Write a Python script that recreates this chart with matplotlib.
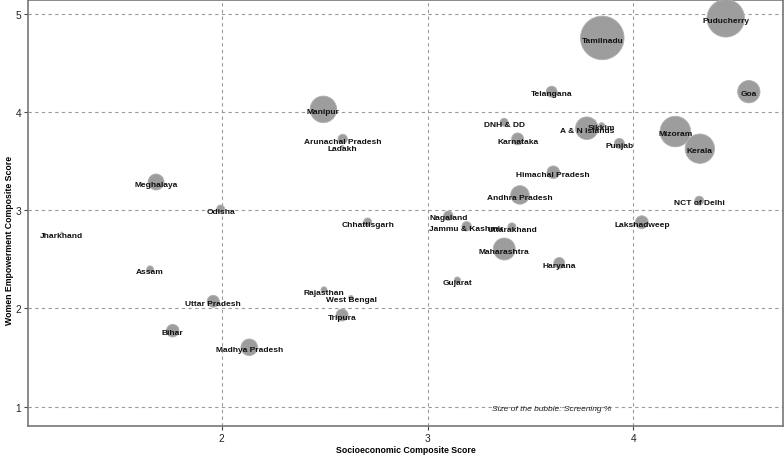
import matplotlib
matplotlib.use("Agg")
import matplotlib.pyplot as plt

states = ["Puducherry", "Tamilnadu", "Goa", "Telangana", "Manipur", "DNH & DD",
          "A & N Islands", "Sikkim", "Karnataka", "Punjab", "Mizoram", "Kerala",
          "Arunachal Pradesh", "Ladakh", "Himachal Pradesh", "Meghalaya",
          "Andhra Pradesh", "NCT of Delhi", "Odisha", "Nagaland", "Chhattisgarh",
          "Jammu & Kashmir", "Uttarakhand", "Lakshadweep", "Jharkhand",
          "Maharashtra", "Haryana", "Assam", "Gujarat", "Rajasthan", "West Bengal",
          "Uttar Pradesh", "Tripura", "Bihar", "Madhya Pradesh"]
socio = [4.449, 3.849, 4.561, 3.603, 2.494, 3.372,
         3.774, 3.846, 3.438, 3.932, 4.204, 4.323,
         2.588, 2.586, 3.611, 1.681,
         3.449, 4.320, 1.995, 3.101, 2.709,
         3.190, 3.410, 4.041, 1.223,
         3.373, 3.640, 1.652, 3.145, 2.497, 2.628,
         1.959, 2.585, 1.762, 2.134]
women = [4.953, 4.753, 4.206, 4.206, 4.026, 3.895,
         3.834, 3.860, 3.725, 3.680, 3.800, 3.626,
         3.725, 3.650, 3.386, 3.287,
         3.155, 3.097, 3.012, 2.944, 2.880,
         2.836, 2.830, 2.877, 2.768,
         2.605, 2.463, 2.400, 2.290, 2.190, 2.110,
         2.073, 1.933, 1.774, 1.605]
screening = [35.3, 47.5, 12.5, 3.0, 17.7, 1.6,
             12.8, 0.9, 3.6, 2.5, 23.4, 21.6,
             2.2, 0.1, 4.0, 6.4,
             8.6, 2.0, 1.6, 2.2, 1.6,
             2.2, 1.6, 4.2, 0.1,
             12.1, 3.0, 1.1, 0.9, 0.9, 0.5,
             3.6, 3.6, 4.0, 6.9]

x_ticks = [2, 3, 4]
y_ticks = [1, 2, 3, 4, 5]
x_label = "Socioeconomic Composite Score"
y_label = "Women Empowerment Composite Score"
note = "Size of the bubble: Screening %"

plt.rcParams["font.family"] = ["Liberation Sans", "DejaVu Sans"]

fig = plt.figure(figsize=(7.84, 4.56), dpi=100)
ax = fig.add_axes([28 / 784, 29.3 / 456, 755 / 784, 425.7 / 456])
ax.set_xlim(1.059, 4.727)
ax.set_ylim(0.807, 5.139)

ax.grid(True, color="#9a9a9a", linestyle=(0, (3, 3)), linewidth=0.8)
ax.set_axisbelow(True)

sizes = [20.7 * s for s in screening]
ax.scatter(socio, women, s=sizes, color="#9d9d9d", edgecolors="#b0b0b0",
           linewidths=0.6, zorder=3, clip_on=False)

for name, xv, yv in zip(states, socio, women):
    ax.annotate(name, (xv, yv), xytext=(0, -1.6), textcoords="offset points",
                ha="center", va="center", fontsize=6.0, fontweight="bold",
                color="#111111", zorder=4)

ax.text(3.603, 0.987, note, ha="center", va="center", fontsize=6.0,
        style="italic", color="#222222", zorder=4)

ax.set_xticks(x_ticks)
ax.set_yticks(y_ticks)
ax.tick_params(axis="both", length=3, width=0.8, color="#444444",
               labelsize=7.3, labelcolor="#222222", pad=2)
for sp in ax.spines.values():
    sp.set_color("#777777")
    sp.set_linewidth(1.2)

ax.set_xlabel(x_label, fontsize=6.3, fontweight="bold")
ax.set_ylabel(y_label, fontsize=6.3, fontweight="bold")
ax.yaxis.set_label_coords(-0.019, 0.4386)
ax.xaxis.set_label_coords(0.5, -0.045)

fig.savefig("out.png", dpi=100)
